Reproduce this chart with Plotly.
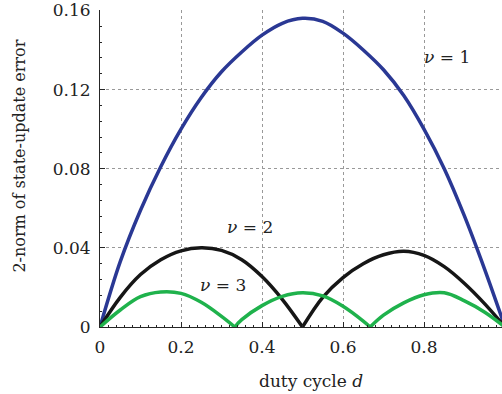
import plotly.graph_objects as go

# ---- data ----
d_blue = [0, 0.05, 0.10, 0.15, 0.20, 0.25, 0.30, 0.35, 0.40, 0.45, 0.50,
          0.55, 0.60, 0.65, 0.70, 0.75, 0.80, 0.85, 0.90, 0.95, 1.0]
err_nu1 = [0, 0.033, 0.059, 0.081, 0.100, 0.116, 0.129, 0.139, 0.1475, 0.1535, 0.156,
           0.1545, 0.1485, 0.140, 0.130, 0.117, 0.100, 0.080, 0.056, 0.029, 0]

d_black = [0, 0.05, 0.10, 0.15, 0.20, 0.25, 0.30, 0.35, 0.40, 0.45, 0.50,
           0.55, 0.60, 0.65, 0.70, 0.75, 0.80, 0.85, 0.90, 0.95, 1.0]
err_nu2 = [0, 0.0150, 0.0265, 0.0340, 0.0385, 0.0400, 0.0387, 0.0340, 0.0255, 0.0140, 0,
           0.0150, 0.0250, 0.0320, 0.0365, 0.0383, 0.0362, 0.0305, 0.0220, 0.0117, 0]

d_green = [0, 0.05, 0.10, 0.15, 0.20, 0.25, 0.30, 0.333,
           0.35, 0.40, 0.45, 0.50, 0.55, 0.60, 0.65, 0.667,
           0.70, 0.75, 0.80, 0.85, 0.90, 0.95, 1.0]
err_nu3 = [0, 0.0086, 0.0153, 0.0177, 0.0170, 0.0125, 0.0054, 0,
           0.0037, 0.0108, 0.0155, 0.0173, 0.0157, 0.0105, 0.0030, 0,
           0.0060, 0.0122, 0.0163, 0.0173, 0.0132, 0.0075, 0]

x_tickvals = [0, 0.2, 0.4, 0.6, 0.8]
x_ticktext = ["0", "0.2", "0.4", "0.6", "0.8"]
y_tickvals = [0, 0.04, 0.08, 0.12, 0.16]
y_ticktext = ["0", "0.04", "0.08", "0.12", "0.16"]

labels = ["<i>ν</i> = 1", "<i>ν</i> = 2", "<i>ν</i> = 3"]
label_pos = [(0.857, 0.1365), (0.370, 0.0503), (0.303, 0.0212)]

colors = ["#2a3894", "#161616", "#1fb24c"]
FONT = "DejaVu Serif"
FS = 17
TXT = "#222222"


def arches(xs, ys):
    """split a series at its interior zeros so cusps stay sharp"""
    segs, cur_x, cur_y = [], [], []
    for i, (x, y) in enumerate(zip(xs, ys)):
        cur_x.append(x)
        cur_y.append(y)
        if y == 0 and 0 < i < len(xs) - 1:
            segs.append((cur_x, cur_y))
            cur_x, cur_y = [x], [y]
    segs.append((cur_x, cur_y))
    return segs


fig = go.Figure()
for xs, ys, c in [(d_blue, err_nu1, colors[0]), (d_black, err_nu2, colors[1]),
                  (d_green, err_nu3, colors[2])]:
    for sx, sy in arches(xs, ys):
        fig.add_trace(go.Scatter(x=sx, y=sy, mode="lines",
                                 line=dict(color=c, width=3.5, shape="spline", smoothing=1.0),
                                 showlegend=False, hoverinfo="skip"))

PH = 320.0
annotations = []
for txt, (ax, ay) in zip(labels, label_pos):
    annotations.append(dict(x=ax, y=ay, xref="x", yref="y", text=txt, showarrow=False,
                            font=dict(family=FONT, size=FS, color=TXT),
                            xanchor="center", yanchor="middle"))
annotations.append(dict(x=1.0, y=(327 - 346) / PH, xref="x", yref="paper", text="1",
                        showarrow=False, font=dict(family=FONT, size=FS, color=TXT),
                        xanchor="center", yanchor="middle"))
annotations.append(dict(x=(311 - 100) / 402.0, y=(327 - 382) / PH, xref="paper", yref="paper",
                        text="duty cycle <i>d</i>", showarrow=False,
                        font=dict(family=FONT, size=FS, color=TXT),
                        xanchor="center", yanchor="middle"))
annotations.append(dict(x=(20 - 100) / 402.0, y=(327 - 155) / PH, xref="paper", yref="paper",
                        text="2-norm of state-update error", showarrow=False, textangle=-90,
                        font=dict(family=FONT, size=16, color=TXT),
                        xanchor="center", yanchor="middle"))

axis_common = dict(showline=True, linecolor="#262626", linewidth=1, mirror=False,
                   ticks="inside", ticklen=5, tickcolor="#262626", tickwidth=1,
                   showgrid=True, gridcolor="#999999", griddash="dot", gridwidth=1,
                   zeroline=False, ticklabeloverflow="allow",
                   tickfont=dict(family=FONT, size=FS, color=TXT))

fig.update_layout(
    width=502, height=394,
    margin=dict(l=100, r=0, t=7, b=67),
    paper_bgcolor="white", plot_bgcolor="white",
    font=dict(family=FONT, color=TXT),
    annotations=annotations,
    xaxis=dict(range=[0, (502 - 100) / 405.0], tickmode="array", tickvals=x_tickvals,
               ticktext=x_ticktext, ticklabelstandoff=5,
               minor=dict(ticks="inside", ticklen=2, dtick=0.02, tickcolor="#262626", showgrid=False),
               **axis_common),
    yaxis=dict(range=[0, 0.1602], tickmode="array", tickvals=y_tickvals,
               ticktext=y_ticktext, ticklabelstandoff=5,
               minor=dict(ticks="inside", ticklen=2, dtick=0.008, tickcolor="#262626", showgrid=False),
               **axis_common),
)

fig.write_html("out.html")
